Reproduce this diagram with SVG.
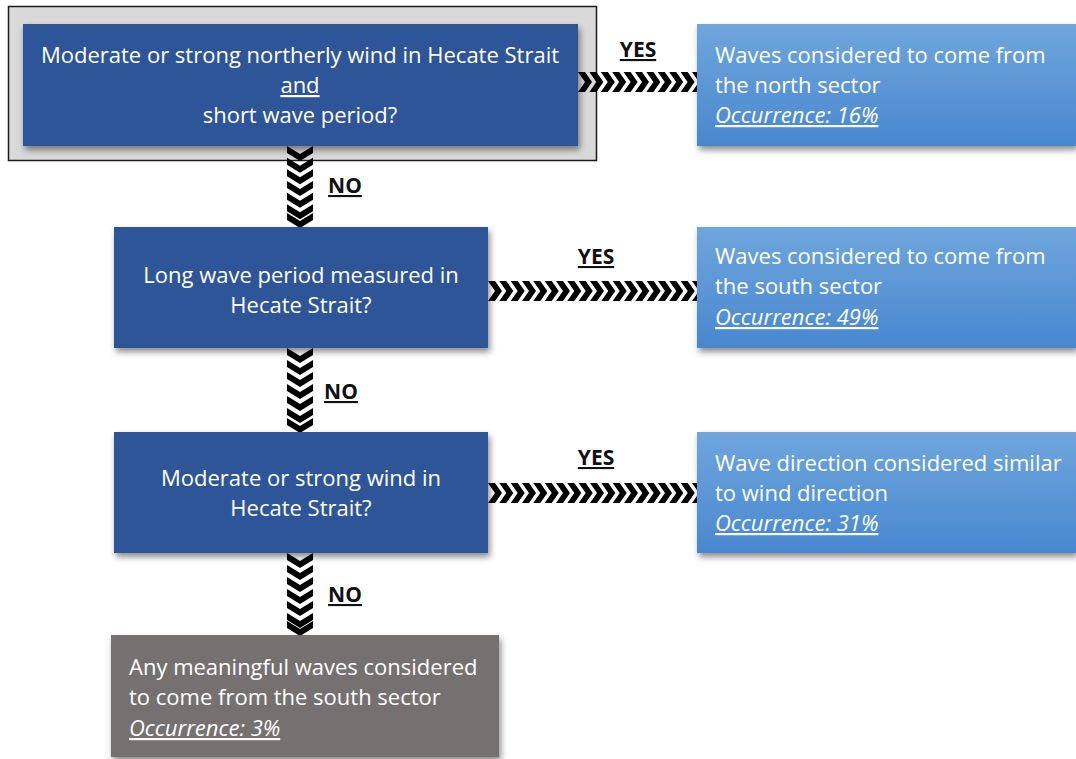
<svg xmlns="http://www.w3.org/2000/svg" xmlns:xlink="http://www.w3.org/1999/xlink" width="1076" height="759" viewBox="0 0 1076 759">
<defs>
<filter id="sh" x="-10%" y="-10%" width="120%" height="130%">
<feDropShadow dx="2" dy="4" stdDeviation="3" flood-color="#000" flood-opacity="0.45"/>
</filter>
<linearGradient id="lb" x1="0" y1="0" x2="0" y2="1">
<stop offset="0" stop-color="#6fa6dc"/>
<stop offset="1" stop-color="#4887cf"/>
</linearGradient>
<path id="ch" d="M0,0 H7 L14,10 L7,20 H0 L7,10 Z" fill="#000"/>
<path id="cv" d="M0,0 L13,8 L26,0 V7 L13,15 L0,7 Z" fill="#000"/>
</defs>
<style>
.t{font-family:"Open Sans","Noto Sans",sans-serif;font-size:22px;fill:#fff}
.c{text-anchor:middle}
.u{text-decoration:underline}
.i{font-style:italic;text-decoration:underline}
.lbl{font-family:"Open Sans","Noto Sans",sans-serif;font-size:21px;font-weight:bold;fill:#111;text-anchor:middle;text-decoration:underline}
.db{fill:#2f5597}
.lt{fill:url(#lb)}
.gr{fill:#767171}
</style>
<rect width="1076" height="759" fill="#fff"/>

<g id="frame">
<rect x="8.5" y="6.5" width="588" height="154" fill="#d9d9d9" stroke="#1a1a1a" stroke-width="1.5"/>
</g>

<g id="connectors">
<g id="a1">
<use xlink:href="#ch" x="578" y="72"/><use xlink:href="#ch" x="589.4" y="72"/><use xlink:href="#ch" x="600.8" y="72"/><use xlink:href="#ch" x="612.2" y="72"/><use xlink:href="#ch" x="623.6" y="72"/><use xlink:href="#ch" x="635" y="72"/><use xlink:href="#ch" x="646.4" y="72"/><use xlink:href="#ch" x="657.8" y="72"/><use xlink:href="#ch" x="669.2" y="72"/><use xlink:href="#ch" x="680.6" y="72"/><use xlink:href="#ch" x="692" y="72"/>
</g>
<g id="a2">
<use xlink:href="#ch" x="488" y="281"/><use xlink:href="#ch" x="499.3" y="281"/><use xlink:href="#ch" x="510.7" y="281"/><use xlink:href="#ch" x="522" y="281"/><use xlink:href="#ch" x="533.3" y="281"/><use xlink:href="#ch" x="544.7" y="281"/><use xlink:href="#ch" x="556" y="281"/><use xlink:href="#ch" x="567.3" y="281"/><use xlink:href="#ch" x="578.7" y="281"/><use xlink:href="#ch" x="590" y="281"/><use xlink:href="#ch" x="601.3" y="281"/><use xlink:href="#ch" x="612.7" y="281"/><use xlink:href="#ch" x="624" y="281"/><use xlink:href="#ch" x="635.3" y="281"/><use xlink:href="#ch" x="646.7" y="281"/><use xlink:href="#ch" x="658" y="281"/><use xlink:href="#ch" x="669.3" y="281"/><use xlink:href="#ch" x="680.7" y="281"/><use xlink:href="#ch" x="692" y="281"/>
</g>
<g id="a3">
<use xlink:href="#ch" x="488" y="483"/><use xlink:href="#ch" x="499.3" y="483"/><use xlink:href="#ch" x="510.7" y="483"/><use xlink:href="#ch" x="522" y="483"/><use xlink:href="#ch" x="533.3" y="483"/><use xlink:href="#ch" x="544.7" y="483"/><use xlink:href="#ch" x="556" y="483"/><use xlink:href="#ch" x="567.3" y="483"/><use xlink:href="#ch" x="578.7" y="483"/><use xlink:href="#ch" x="590" y="483"/><use xlink:href="#ch" x="601.3" y="483"/><use xlink:href="#ch" x="612.7" y="483"/><use xlink:href="#ch" x="624" y="483"/><use xlink:href="#ch" x="635.3" y="483"/><use xlink:href="#ch" x="646.7" y="483"/><use xlink:href="#ch" x="658" y="483"/><use xlink:href="#ch" x="669.3" y="483"/><use xlink:href="#ch" x="680.7" y="483"/><use xlink:href="#ch" x="692" y="483"/>
</g>
<g id="v1">
<use xlink:href="#cv" x="287" y="146"/><use xlink:href="#cv" x="287" y="157.7"/><use xlink:href="#cv" x="287" y="169.3"/><use xlink:href="#cv" x="287" y="181"/><use xlink:href="#cv" x="287" y="192.7"/><use xlink:href="#cv" x="287" y="204.3"/><use xlink:href="#cv" x="287" y="213"/>
</g>
<g id="v2">
<use xlink:href="#cv" x="287" y="348"/><use xlink:href="#cv" x="287" y="360"/><use xlink:href="#cv" x="287" y="372"/><use xlink:href="#cv" x="287" y="384"/><use xlink:href="#cv" x="287" y="396"/><use xlink:href="#cv" x="287" y="408"/><use xlink:href="#cv" x="287" y="418"/>
</g>
<g id="v3">
<use xlink:href="#cv" x="287" y="553"/><use xlink:href="#cv" x="287" y="565"/><use xlink:href="#cv" x="287" y="577"/><use xlink:href="#cv" x="287" y="589"/><use xlink:href="#cv" x="287" y="601"/><use xlink:href="#cv" x="287" y="613"/><use xlink:href="#cv" x="287" y="621"/>
</g>
<text class="lbl" x="638" y="57">YES</text>
<text class="lbl" x="345" y="193">NO</text>
<text class="lbl" x="596" y="264">YES</text>
<text class="lbl" x="341" y="399">NO</text>
<text class="lbl" x="596" y="465">YES</text>
<text class="lbl" x="345" y="602">NO</text>
</g>

<g id="q1">
<rect class="db" x="23" y="24" width="555" height="122" filter="url(#sh)"/>
<text class="t c" x="300" y="63">Moderate or strong northerly wind in Hecate Strait</text>
<text class="t c u" x="300" y="93">and</text>
<text class="t c" x="300" y="123">short wave period?</text>
</g>
<g id="q2">
<rect class="db" x="114" y="227" width="374" height="121" filter="url(#sh)"/>
<text class="t c" x="301" y="283">Long wave period measured in</text>
<text class="t c" x="301" y="313">Hecate Strait?</text>
</g>
<g id="q3">
<rect class="db" x="114" y="432" width="374" height="121" filter="url(#sh)"/>
<text class="t c" x="301" y="486">Moderate or strong wind in</text>
<text class="t c" x="301" y="516">Hecate Strait?</text>
</g>
<g id="r1">
<rect class="lt" x="697" y="24" width="379" height="122" filter="url(#sh)"/>
<text class="t" x="715" y="63">Waves considered to come from</text>
<text class="t" x="715" y="93">the north sector</text>
<text class="t i" x="715" y="123">Occurrence: 16%</text>
</g>
<g id="r2">
<rect class="lt" x="697" y="227" width="379" height="121" filter="url(#sh)"/>
<text class="t" x="715" y="264">Waves considered to come from</text>
<text class="t" x="715" y="294">the south sector</text>
<text class="t i" x="715" y="325">Occurrence: 49%</text>
</g>
<g id="r3">
<rect class="lt" x="697" y="432" width="379" height="121" filter="url(#sh)"/>
<text class="t" x="715" y="471">Wave direction considered similar</text>
<text class="t" x="715" y="501">to wind direction</text>
<text class="t i" x="715" y="531">Occurrence: 31%</text>
</g>
<g id="r4">
<rect class="gr" x="111" y="635" width="388" height="122" filter="url(#sh)"/>
<text class="t" x="129" y="675">Any meaningful waves considered</text>
<text class="t" x="129" y="705">to come from the south sector</text>
<text class="t i" x="129" y="736">Occurrence: 3%</text>
</g>
</svg>
